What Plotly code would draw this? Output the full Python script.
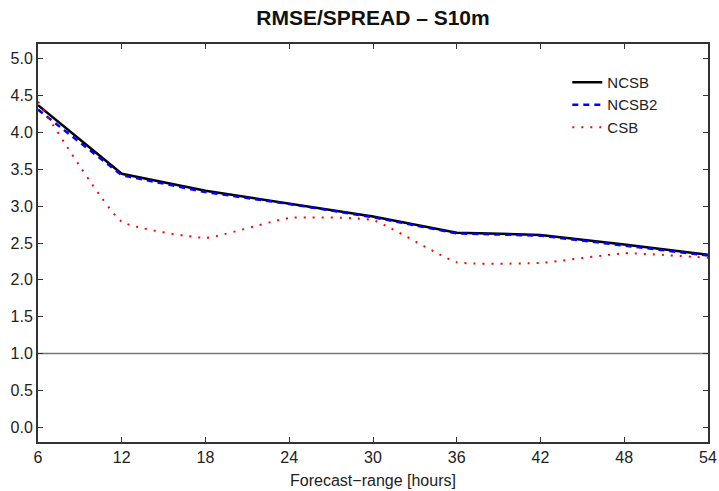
import plotly.graph_objects as go

# Forecast lead times (hours)
lead_hours = [6, 12, 18, 24, 30, 36, 42, 48, 54]

# RMSE / spread ratio of 10 m wind speed per configuration
ncsb = [4.37, 3.44, 3.21, 3.04, 2.86, 2.64, 2.61, 2.48, 2.34]
ncsb2 = [4.31, 3.42, 3.19, 3.03, 2.85, 2.63, 2.60, 2.47, 2.33]
csb = [4.42, 2.79, 2.57, 2.84, 2.81, 2.24, 2.23, 2.36, 2.30]

x_ticks = [6, 12, 18, 24, 30, 36, 42, 48, 54]
y_ticks = [0.0, 0.5, 1.0, 1.5, 2.0, 2.5, 3.0, 3.5, 4.0, 4.5, 5.0]

FONT = "Liberation Sans, Arial, sans-serif"

fig = go.Figure()
fig.add_trace(go.Scatter(x=lead_hours, y=ncsb, name="NCSB", mode="lines",
                         line=dict(color="black", width=2.5)))
fig.add_trace(go.Scatter(x=lead_hours, y=ncsb2, name="NCSB2", mode="lines",
                         line=dict(color="#0000ff", width=2.5, dash="6px,5px")))
fig.add_trace(go.Scatter(x=lead_hours, y=csb, name="CSB", mode="lines",
                         line=dict(color="#ff0000", width=2, dash="2px,7px",
                                   shape="spline", smoothing=0.4)))

# reference line at ratio 1
fig.add_hline(y=1.0, line=dict(color="#777777", width=1.5), layer="below")

axis_common = dict(
    showgrid=False, zeroline=False, showline=True, linecolor="#333333",
    linewidth=2, mirror="ticks", ticks="inside", ticklen=5, tickwidth=1,
    tickcolor="#333333", tickfont=dict(family=FONT, size=16, color="#222222"),
    automargin=False,
)

fig.update_layout(
    width=719, height=491,
    margin=dict(l=38, r=11, t=44, b=49),
    paper_bgcolor="white", plot_bgcolor="white",
    font=dict(family=FONT, color="#222222"),
    title=dict(text="<b>RMSE/SPREAD \u2013 S10m</b>", x=(38 + 708) / 2 / 719,
               xanchor="center", y=1 - 18 / 491, yanchor="middle",
               font=dict(family=FONT, size=21, color="#111111")),
    xaxis=dict(range=[6, 54], tickvals=x_ticks,
               title=dict(text="Forecast\u2212range [hours]", standoff=10,
                          font=dict(family=FONT, size=16, color="#222222")),
               **axis_common),
    yaxis=dict(range=[-0.2, 5.2], tickvals=y_ticks, tickformat=".1f",
               **axis_common),
    legend=dict(x=0.79, y=0.945, xanchor="left", yanchor="top",
                bgcolor="rgba(0,0,0,0)", font=dict(family=FONT, size=15),
                tracegroupgap=0, itemwidth=30),
    showlegend=True,
)

fig.write_html("out.html")
